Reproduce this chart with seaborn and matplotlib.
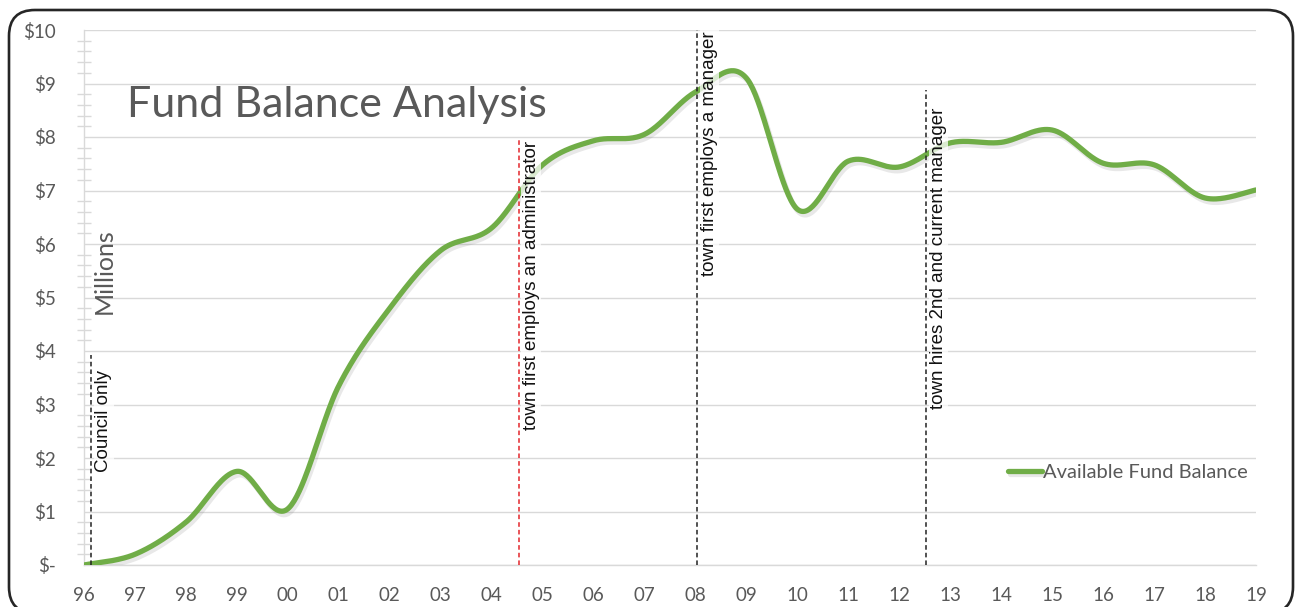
import numpy as np
import pandas as pd
import matplotlib
matplotlib.use("Agg")
import matplotlib.pyplot as plt
import matplotlib.patheffects as pe
from matplotlib.patches import FancyBboxPatch
from matplotlib.ticker import MultipleLocator, FixedLocator
import seaborn as sns

# Fiscal years and available fund balance (millions of dollars)
years = ["96", "97", "98", "99", "00", "01", "02", "03", "04", "05", "06", "07",
         "08", "09", "10", "11", "12", "13", "14", "15", "16", "17", "18", "19"]
balance = [0.00, 0.20, 0.80, 1.75, 1.05, 3.35, 4.80, 5.88, 6.30, 7.48, 7.93, 8.05,
           8.84, 9.10, 6.65, 7.55, 7.44, 7.89, 7.90, 8.13, 7.51, 7.48, 6.86, 7.01]
y_labels = ["$-", "$1", "$2", "$3", "$4", "$5", "$6", "$7", "$8", "$9", "$10"]

# Milestones: (position between fiscal years, height of marker line, text, colour)
event_pos = [0.14, 8.53, 12.03, 16.52]
event_top = [3.93, 7.94, 10.0, 8.88]
event_text = ["Council only", "town first employs an administrator",
              "town first employs a manager", "town hires 2nd and current manager"]
event_color = ["#222222", "#e3262b", "#222222", "#222222"]
text_top = [3.65, 7.92, 9.98, 8.55]


def smooth_curve(xs, ys, n=40):
    """Catmull-Rom style Bezier smoothing through every point."""
    p = np.column_stack([xs, ys]).astype(float)
    p_ext = np.vstack([p[0], p, p[-1]])
    out = []
    t = np.linspace(0, 1, n, endpoint=False)[:, None]
    for i in range(1, len(p_ext) - 2):
        p0, p1, p2, p3 = p_ext[i - 1], p_ext[i], p_ext[i + 1], p_ext[i + 2]
        c1 = p1 + (p2 - p0) / 6.0
        c2 = p2 - (p3 - p1) / 6.0
        seg = ((1 - t) ** 3) * p1 + 3 * ((1 - t) ** 2) * t * c1 + 3 * (1 - t) * t ** 2 * c2 + t ** 3 * p2
        out.append(seg)
    out.append(p[-1][None, :])
    return np.vstack(out)


sns.set_theme(style="white")
plt.rcParams["font.family"] = ["Lato", "DejaVu Sans"]

W, H = 1297, 607
fig = plt.figure(figsize=(W / 100, H / 100), dpi=100)
ax = fig.add_axes([84 / W, 42 / H, (1256 - 84) / W, (565 - 30) / H])

xi = np.arange(len(years))
curve = smooth_curve(xi, balance)
df = pd.DataFrame({"x": curve[:, 0], "value": curve[:, 1]})
sns.lineplot(data=df, x="x", y="value", sort=False, ax=ax, color="#70ad47",
             linewidth=3.8, label="Available Fund Balance", zorder=3,
             path_effects=[pe.SimpleLineShadow(offset=(1.5, -2.5), shadow_color="#808080", alpha=0.18),
                           pe.Normal()])

ax.set_xlim(0, len(years) - 1)
ax.set_ylim(0, 10)
ax.set_xlabel("")
ax.set_ylabel("")

grid_c = "#d9d9d9"
text_c = "#595959"
ax.yaxis.set_major_locator(MultipleLocator(1))
ax.yaxis.set_minor_locator(MultipleLocator(0.2))
ax.set_yticks(range(11))
ax.set_yticklabels(y_labels)
ax.xaxis.set_major_locator(FixedLocator(xi))
ax.set_xticklabels(years)
ax.grid(axis="y", color=grid_c, linewidth=1.0, zorder=0)
ax.grid(axis="x", visible=False)
ax.set_axisbelow(True)
for s in ["top", "right"]:
    ax.spines[s].set_visible(False)
for s in ["left", "bottom"]:
    ax.spines[s].set_color(grid_c)
    ax.spines[s].set_linewidth(1.0)
ax.tick_params(axis="x", which="major", direction="inout", length=12, width=1,
               color=grid_c, labelcolor=text_c, labelsize=13.5, pad=10)
ax.tick_params(axis="y", which="major", direction="inout", length=12, width=1,
               color=grid_c, labelcolor=text_c, labelsize=13.5, pad=14)
ax.tick_params(axis="y", which="minor", direction="inout", length=10, width=1,
               color=grid_c, left=True)

# Milestone marker lines and labels
for pos, top, txt, col, ttop in zip(event_pos, event_top, event_text, event_color, text_top):
    ax.plot([pos, pos], [0, top], linestyle=(0, (3, 2)), color=col, linewidth=1.1, zorder=5,
            clip_on=False)
    ax.text(pos + 0.08, ttop, txt, rotation=90, ha="left", va="top", fontsize=13.5,
            family=["Liberation Sans", "DejaVu Sans"], color="#111111", zorder=4,
            bbox=dict(facecolor="white", edgecolor="none", alpha=0.75, pad=1.0))

# Chart title and units label
fig.text(127 / W, 1 - 105 / H, "Fund Balance Analysis", fontsize=31, color=text_c,
         ha="left", va="center")
ax.text(0.39, 5.5, "Millions", rotation=90, ha="center", va="center", fontsize=18,
        color=text_c)

leg = ax.legend(loc="center left", bbox_to_anchor=((1008 - 84) / 1172, (565 - 472) / 535),
                frameon=False, fontsize=14.5, handlelength=1.7, handletextpad=0.05,
                borderpad=0, borderaxespad=0)
for t in leg.get_texts():
    t.set_color(text_c)

# Rounded outer frame
frame = FancyBboxPatch((9, -6), 1284, 603, boxstyle="round,pad=0,rounding_size=26",
                       transform=None, facecolor="none", edgecolor="#262626",
                       linewidth=1.9, zorder=10)
fig.patches.append(frame)

fig.savefig("out.png", dpi=100)
